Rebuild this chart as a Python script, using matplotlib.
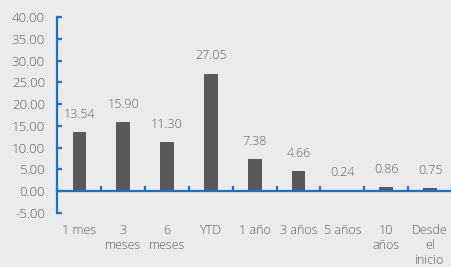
import numpy as np
import matplotlib
matplotlib.use("Agg")
import matplotlib.pyplot as plt

# data
categories = ["1 mes", "3\nmeses", "6\nmeses", "YTD", "1 año", "3 años",
              "5 años", "10\naños", "Desde\nel\ninicio"]
values = [13.54, 15.90, 11.30, 27.05, 7.38, 4.66, 0.24, 0.86, 0.75]
y_ticks = [-5, 0, 5, 10, 15, 20, 25, 30, 35, 40]

bg = "#ebebeb"
bar_color = "#595959"
axis_blue = "#1b72c6"
text_gray = "#5e5e5e"

plt.rcParams["font.family"] = ["Open Sans", "DejaVu Sans"]
plt.rcParams["font.weight"] = "light"

fig = plt.figure(figsize=(4.52, 2.67), dpi=100, facecolor=bg)
ax = fig.add_axes([0.1272, 0.2034, 0.8728, 0.7316], facecolor=bg)

x = np.arange(len(categories))
ax.bar(x, values, width=0.31, color=bar_color, zorder=2)

for xi, v in zip(x, values):
    ax.annotate(f"{v:.2f}", (xi, v), xytext=(0, 8), textcoords="offset points",
                ha="center", va="bottom", fontsize=9, color=text_gray)

ax.set_xlim(-0.5, len(categories) - 0.5)
ax.set_ylim(-5, 40)
ax.set_yticks(y_ticks)
ax.set_yticklabels([f"{t:.2f}" for t in y_ticks])

for side in ["top", "right"]:
    ax.spines[side].set_visible(False)
ax.spines["left"].set_color(axis_blue)
ax.spines["left"].set_linewidth(1.6)
ax.spines["bottom"].set_color(axis_blue)
ax.spines["bottom"].set_linewidth(1.6)
ax.spines["bottom"].set_position(("data", 0))

# boundary ticks on the zero line, labels hung below the plot
ax.set_xticks(np.arange(len(categories) + 1) - 0.5)
ax.set_xticklabels([])
ax.set_xticks(x, minor=True)
ax.set_xticklabels(categories, minor=True)
ax.tick_params(axis="x", which="major", direction="in", length=3.5, width=1.6,
               color=axis_blue)
ax.tick_params(axis="x", which="minor", length=0, pad=24, labelsize=9,
               labelcolor=text_gray)
ax.tick_params(axis="y", direction="in", length=3.5, width=1.6, color=axis_blue,
               pad=9, labelsize=9.5, labelcolor=text_gray)
for lbl in ax.get_xticklabels(minor=True):
    lbl.set_linespacing(1.2)

fig.savefig("out.png", dpi=100, facecolor=bg)
